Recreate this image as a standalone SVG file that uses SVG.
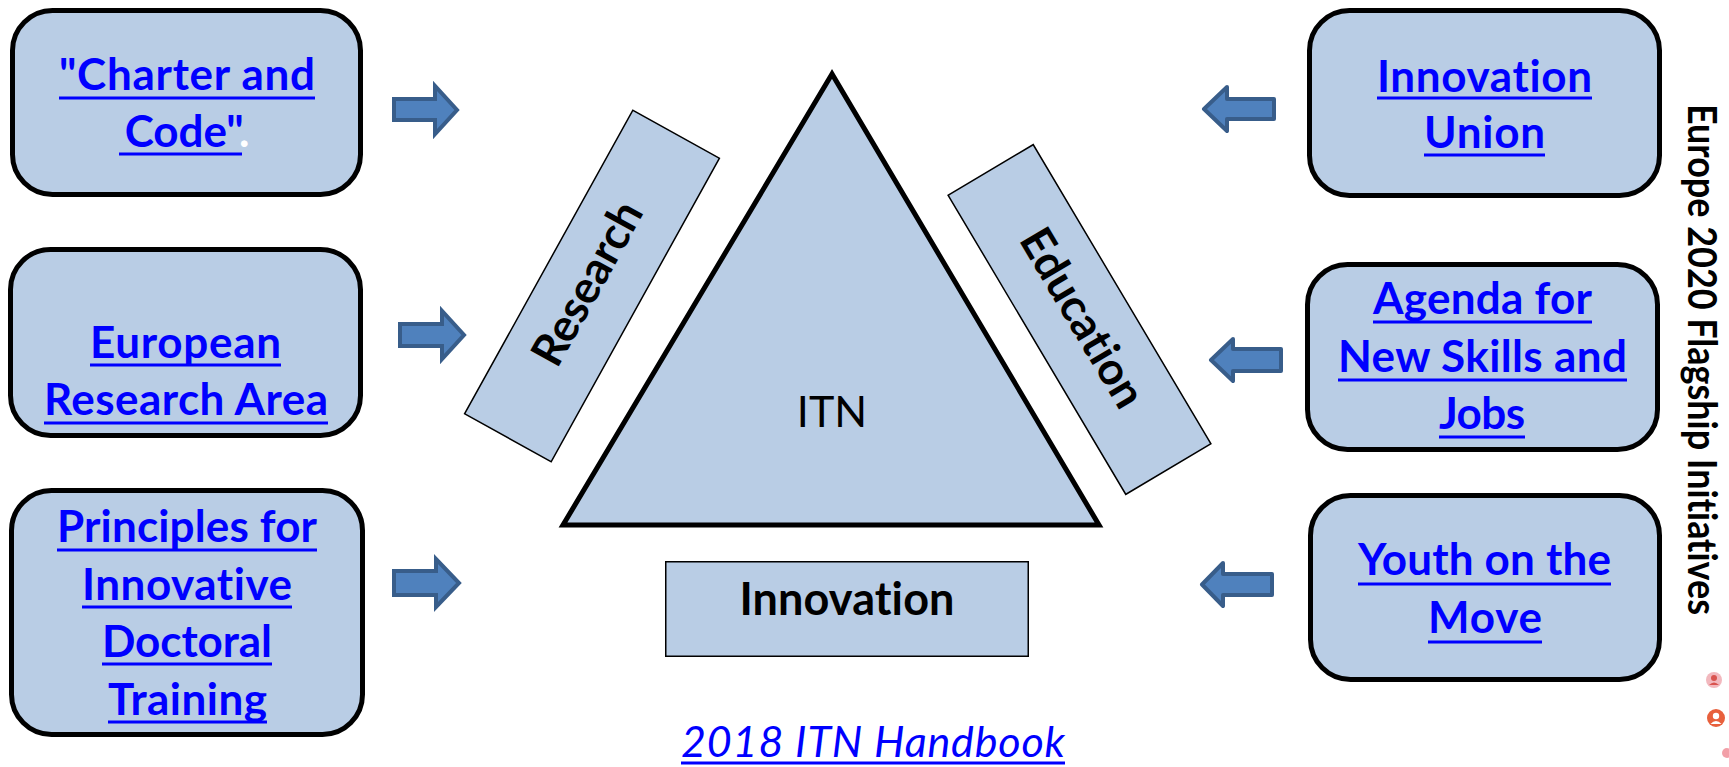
<svg xmlns="http://www.w3.org/2000/svg" width="1729" height="767" viewBox="0 0 1729 767">
<style>
text{font-variant-ligatures:none;font-feature-settings:"liga" 0,"clig" 0}
.bg{fill:#FFFFFF}
.box{fill:#B9CDE5;stroke:#000000;stroke-width:5}
.thin{fill:#B9CDE5;stroke:#000000;stroke-width:1.5}
.tri{fill:#B9CDE5;stroke:#000000;stroke-width:5;stroke-linejoin:miter}
.link{font-family:Lato,'Open Sans',sans-serif;font-weight:bold;font-size:44px;fill:#0000FF;text-anchor:middle}
.ul{stroke:#0000FF;stroke-width:3}
.lbl{font-family:Lato,'Open Sans',sans-serif;font-weight:bold;font-size:45px;fill:#000000;text-anchor:middle}
.itn{font-family:Lato,'Open Sans',sans-serif;font-size:43px;fill:#000000;text-anchor:middle}
.hb{font-family:Lato,'Open Sans',sans-serif;font-style:italic;font-size:43px;fill:#0000FF;text-anchor:middle}
.side{font-family:Lato,'Open Sans',sans-serif;font-weight:bold;font-size:41px;fill:#000000}
.arR{fill:#4F81BD;stroke:#385D8A;stroke-width:4;stroke-linejoin:miter}
.arL{fill:#4F81BD;stroke:#385D8A;stroke-width:4;stroke-linejoin:round}
</style>
<rect class="bg" x="0" y="0" width="1729" height="767"/>

<g id="connectors">
  <path class="arR" d="M394,99 H435 V86 L457,110 L435,134 V120 H394 Z"/>
  <path class="arR" d="M400,324 H442 V311 L464,335 L442,359 V346 H400 Z"/>
  <path class="arR" d="M394,571 H436 V559 L459,583 L436,607 V595 H394 Z"/>
  <path class="arL" d="M1274,99 H1227 V87 L1204,109 L1227,131 V119 H1274 Z"/>
  <path class="arL" d="M1281,349 H1233 V339 L1211,360 L1233,381 V371 H1281 Z"/>
  <path class="arL" d="M1272,574 H1223 V563 L1202,584.5 L1223,606 V595 H1272 Z"/>
</g>

<g id="charter">
  <rect class="box" x="12.5" y="10.5" width="348" height="184" rx="40"/>
  <text class="link" x="187" y="90" textLength="256">"Charter and</text>
  <line class="ul" x1="59" y1="98" x2="315" y2="98"/>
  <text class="link" x="187" y="147"><tspan>Code"</tspan><tspan fill="#FFFFFF">.</tspan></text>
  <line class="ul" x1="119" y1="154" x2="242" y2="154"/>
</g>

<g id="era">
  <rect class="box" x="10.5" y="249.5" width="350" height="186" rx="40"/>
  <text class="link" x="185.5" y="358" textLength="191">European</text>
  <line class="ul" x1="90" y1="365" x2="281" y2="365"/>
  <text class="link" x="186" y="415" textLength="284">Research Area</text>
  <line class="ul" x1="44" y1="423" x2="328" y2="423"/>
</g>

<g id="principles">
  <rect class="box" x="11.5" y="490.5" width="351" height="244" rx="40"/>
  <text class="link" x="187" y="542" textLength="260">Principles for</text>
  <line class="ul" x1="57" y1="550" x2="317" y2="550"/>
  <text class="link" x="187" y="600" textLength="210">Innovative</text>
  <line class="ul" x1="82" y1="607" x2="292" y2="607"/>
  <text class="link" x="187" y="657" textLength="170">Doctoral</text>
  <line class="ul" x1="102" y1="664" x2="272" y2="664"/>
  <text class="link" x="187.5" y="715" textLength="159">Training</text>
  <line class="ul" x1="108" y1="722" x2="267" y2="722"/>
</g>

<g id="research">
  <g transform="translate(592,286) rotate(-61)">
    <rect class="thin" x="-173.5" y="-49.5" width="347" height="99"/>
    <text class="lbl" x="0" y="10" textLength="180">Research</text>
  </g>
</g>

<g id="itn">
  <polygon class="tri" points="832,74 563,525 1099,525"/>
  <text class="itn" x="832" y="427">ITN</text>
</g>

<g id="education">
  <g transform="translate(1079.5,319.5) rotate(59.3)">
    <rect class="thin" x="-174" y="-49.5" width="348" height="99"/>
    <text class="lbl" x="0" y="12" textLength="200">Education</text>
  </g>
</g>

<g id="innovation">
  <rect class="thin" x="665.75" y="561.75" width="362.5" height="94.5"/>
  <text class="lbl" x="847" y="615" textLength="215">Innovation</text>
</g>

<g id="handbook">
  <text class="hb" x="873" y="757" textLength="384">2018 ITN Handbook</text>
  <line class="ul" x1="681" y1="763" x2="1065" y2="763" stroke-width="2.5"/>
</g>

<g id="innovation-union">
  <rect class="box" x="1309.5" y="10.5" width="350" height="185" rx="40"/>
  <text class="link" x="1484.5" y="92" textLength="215">Innovation</text>
  <line class="ul" x1="1377" y1="98" x2="1592" y2="98"/>
  <text class="link" x="1484.5" y="148" textLength="121">Union</text>
  <line class="ul" x1="1424" y1="155" x2="1545" y2="155"/>
</g>

<g id="agenda">
  <rect class="box" x="1307.5" y="264.5" width="350" height="185" rx="40"/>
  <text class="link" x="1482.5" y="314" textLength="219">Agenda for</text>
  <line class="ul" x1="1373" y1="322" x2="1592" y2="322"/>
  <text class="link" x="1482.5" y="372" textLength="289">New Skills and</text>
  <line class="ul" x1="1338" y1="380" x2="1627" y2="380"/>
  <text class="link" x="1482" y="429" textLength="86">Jobs</text>
  <line class="ul" x1="1439" y1="437" x2="1525" y2="437"/>
</g>

<g id="youth">
  <rect class="box" x="1310.5" y="495.5" width="349" height="184" rx="40"/>
  <text class="link" x="1484.5" y="575" textLength="253">Youth on the</text>
  <line class="ul" x1="1358" y1="584" x2="1611" y2="584"/>
  <text class="link" x="1485" y="633" textLength="114">Move</text>
  <line class="ul" x1="1428" y1="642" x2="1542" y2="642"/>
</g>

<g id="flagship">
  <text class="side" transform="translate(1688,104) rotate(90)" x="0" y="0" textLength="511" lengthAdjust="spacingAndGlyphs">Europe 2020 Flagship Initiatives</text>
</g>

<g id="icons">
  <circle cx="1714" cy="680" r="8" fill="#F2B8BE"/>
  <circle cx="1714" cy="678" r="3" fill="#D9534F"/>
  <path d="M1709,685 Q1714,680 1719,685 Z" fill="#D9534F"/>
  <circle cx="1716" cy="718" r="9" fill="#E8603C"/>
  <circle cx="1716" cy="716" r="3.2" fill="#FFFFFF"/>
  <path d="M1710.5,724 Q1716,718 1721.5,724 Z" fill="#FFFFFF"/>
  <circle cx="1727" cy="753" r="5" fill="#F2A0A8"/>
</g>
</svg>
